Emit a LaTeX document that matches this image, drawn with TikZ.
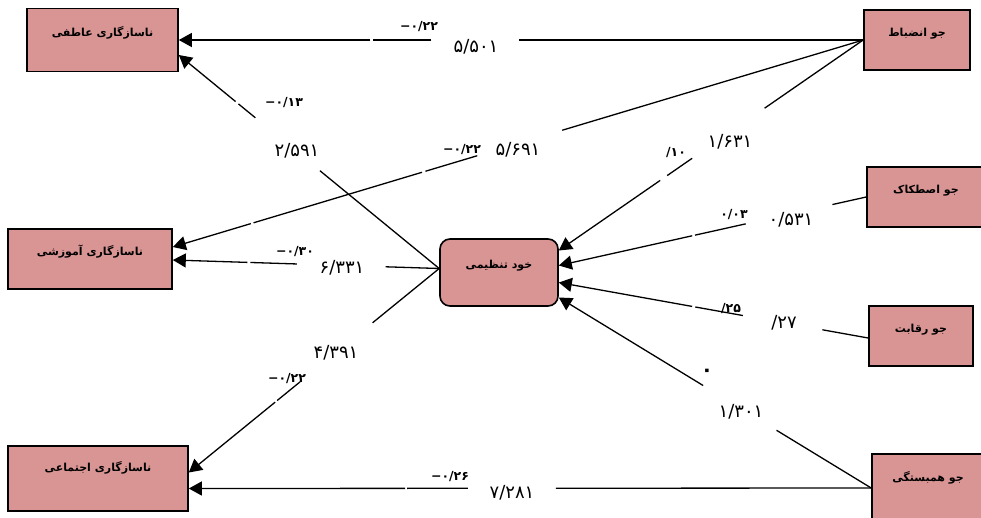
\documentclass[tikz,border=0pt]{standalone}
\usepackage{fontspec}
\usepackage{tikz}
\usetikzlibrary{calc,arrows.meta}
\TeXXeTstate=1
\newfontfamily\fafont[Script=Arabic]{DejaVu Sans}
\newfontfamily\numfont{DejaVu Sans}
\definecolor{boxpink}{RGB}{217,149,148}
\tikzset{
  varbox/.style={draw=black, line width=1.6pt, fill=boxpink, inner sep=0pt,
    font=\fafont\bfseries\fontsize{11}{13}\selectfont, text height=9pt, text depth=17pt},
  lowbox/.style={varbox, text depth=23pt},
  conn/.style={line width=1.3pt},
  connarrow/.style={conn, -{Triangle[length=13pt,width=14pt]}},
  coef/.style={font=\numfont\bfseries\fontsize{12.5}{14}\selectfont, inner sep=1pt},
  tval/.style={font=\numfont\fontsize{18}{20}\selectfont, inner sep=1pt}
}
\begin{document}
\begin{tikzpicture}[x=1pt,y=-1pt]
              \useasboundingbox (0,0) rectangle (981,517);
              \node (atefi) at (102.5,40) [varbox, minimum width=151pt, minimum height=63pt] {\beginR ناسازگاری عاطفی\endR};
              \node (amoozeshi) at (90,259) [varbox, minimum width=164pt, minimum height=60pt] {\beginR ناسازگاری آموزشی\endR};
              \node (ejtemai) at (98,478.5) [lowbox, minimum width=180pt, minimum height=65pt] {\beginR ناسازگاری اجتماعی\endR};
              \node (khod) at (499,272.5) [varbox, rounded corners=10pt, minimum width=118pt, minimum height=67pt] {\beginR خود تنظیمی\endR};
              \node (zabt) at (917,40) [varbox, minimum width=106pt, minimum height=60pt] {\beginR جو انضباط\endR};
              \node (istekak) at (926,197) [varbox, minimum width=118pt, minimum height=60pt] {\beginR جو اصطکاک\endR};
              \node (reqabat) at (921,336) [varbox, minimum width=104pt, minimum height=60pt] {\beginR جو رقابت\endR};
              \node (hambastegi) at (928,488) [lowbox, minimum width=112pt, minimum height=68pt] {\beginR جو همبستگی\endR};
              \coordinate (khodW) at ([yshift=4pt]khod.west);
              \coordinate (khodE1) at ([yshift=22pt]khod.east);
              \coordinate (khodE2) at ([yshift=7pt]khod.east);
              \coordinate (khodE3) at ([yshift=-10pt]khod.east);
              \coordinate (khodE4) at ([yshift=-25pt]khod.east);
              \coordinate (atefiE) at ([yshift=-15pt]atefi.east);
              \coordinate (amoozeshiE) at ([yshift=12pt]amoozeshi.east);
              \coordinate (amoozeshiF) at ([yshift=-1pt]amoozeshi.east);
              \coordinate (ejtemaiE) at ([yshift=6pt]ejtemai.east);
              \coordinate (ejtemaiF) at ([yshift=-10pt]ejtemai.east);
              \coordinate (reqabatW) at ([yshift=-2pt]reqabat.west);
              \draw[conn] (zabt.west) -- ($(zabt.west)!0.503!(atefi.east)$);
              \draw[conn] ($(zabt.west)!0.631!(atefi.east)$) -- ($(zabt.west)!0.716!(atefi.east)$);
              \draw[connarrow] ($(zabt.west)!0.720!(atefi.east)$) -- (atefi.east);
              \draw[conn] (zabt.west) -- ($(zabt.west)!0.436!(amoozeshiE)$);
              \draw[conn] ($(zabt.west)!0.559!(amoozeshiE)$) -- ($(zabt.west)!0.634!(amoozeshiE)$);
              \draw[conn] ($(zabt.west)!0.639!(amoozeshiE)$) -- ($(zabt.west)!0.883!(amoozeshiE)$);
              \draw[connarrow] ($(zabt.west)!0.887!(amoozeshiE)$) -- (amoozeshiE);
              \draw[conn] (zabt.west) -- ($(zabt.west)!0.324!(khodE1)$);
              \draw[conn] ($(zabt.west)!0.562!(khodE1)$) -- ($(zabt.west)!0.644!(khodE1)$);
              \draw[connarrow] ($(zabt.west)!0.667!(khodE1)$) -- (khodE1);
              \draw[conn] (istekak.west) -- ($(istekak.west)!0.110!(khodE2)$);
              \draw[conn] ($(istekak.west)!0.392!(khodE2)$) -- ($(istekak.west)!0.557!(khodE2)$);
              \draw[connarrow] ($(istekak.west)!0.566!(khodE2)$) -- (khodE2);
              \draw[conn] (reqabatW) -- ($(reqabatW)!0.148!(khodE3)$);
              \draw[conn] ($(reqabatW)!0.405!(khodE3)$) -- ($(reqabatW)!0.559!(khodE3)$);
              \draw[connarrow] ($(reqabatW)!0.569!(khodE3)$) -- (khodE3);
              \draw[conn] (hambastegi.west) -- ($(hambastegi.west)!0.303!(khodE4)$);
              \draw[connarrow] ($(hambastegi.west)!0.538!(khodE4)$) -- (khodE4);
              \draw[conn] (hambastegi.west) -- ($(hambastegi.west)!0.462!(ejtemaiF)$);
              \draw[conn] ($(hambastegi.west)!0.591!(ejtemaiF)$) -- ($(hambastegi.west)!0.680!(ejtemaiF)$);
              \draw[connarrow] ($(hambastegi.west)!0.683!(ejtemaiF)$) -- (ejtemaiF);
              \draw[conn] (khodW) -- ($(khodW)!0.458!(atefiE)$);
              \draw[conn] ($(khodW)!0.706!(atefiE)$) -- ($(khodW)!0.771!(atefiE)$);
              \draw[connarrow] ($(khodW)!0.782!(atefiE)$) -- (atefiE);
              \draw[conn] (khodW) -- ($(khodW)!0.201!(amoozeshiF)$);
              \draw[conn] ($(khodW)!0.534!(amoozeshiF)$) -- ($(khodW)!0.709!(amoozeshiF)$);
              \draw[connarrow] ($(khodW)!0.720!(amoozeshiF)$) -- (amoozeshiF);
              \draw[conn] (khodW) -- ($(khodW)!0.266!(ejtemaiE)$);
              \draw[conn] ($(khodW)!0.556!(ejtemaiE)$) -- ($(khodW)!0.647!(ejtemaiE)$);
              \draw[connarrow] ($(khodW)!0.655!(ejtemaiE)$) -- (ejtemaiE);
              \node (c1) at (419,27) [coef] {−۰/۲۲};
              \node (t1) at (476,47) [tval] {۵/۵۰۱};
              \node (c2) at (462,150) [coef] {−۰/۲۲};
              \node (t2) at (518,150) [tval] {۵/۶۹۱};
              \node (c3) at (676,153) [coef] {/۱۰};
              \node (t3) at (730,142) [tval] {۱/۶۳۱};
              \node (c4) at (734,215) [coef] {۰/۰۳};
              \node (t4) at (791,220) [tval] {۰/۵۳۱};
              \node (c5) at (731,309) [coef] {/۲۵};
              \node (t5) at (784,323) [tval] {/۲۷};
              \node (c6) at (707,373) [coef, font=\numfont\bfseries\fontsize{20}{22}\selectfont] {۰};
              \node (t6) at (741,412) [tval] {۱/۳۰۱};
              \node (c7) at (450,477) [coef] {−۰/۲۶};
              \node (t7) at (512,493) [tval] {۷/۲۸۱};
              \node (c8) at (284,103) [coef] {−۰/۱۳};
              \node (t8) at (297,151) [tval] {۲/۵۹۱};
              \node (c9) at (295,252) [coef] {−۰/۳۰};
              \node (t9) at (342,268) [tval] {۶/۳۳۱};
              \node (c10) at (287,379) [coef] {−۰/۲۲};
              \node (t10) at (336,353) [tval] {۴/۳۹۱};
            \end{tikzpicture}
\end{document}
